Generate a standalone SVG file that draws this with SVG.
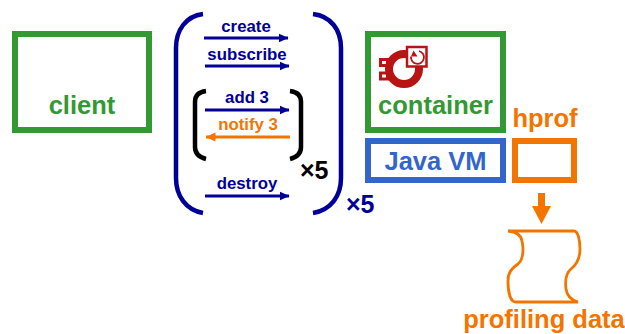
<svg xmlns="http://www.w3.org/2000/svg" width="625" height="334" viewBox="0 0 625 334">
<defs>
<marker id="ab" markerUnits="userSpaceOnUse" markerWidth="10" markerHeight="12" refX="9.500" refY="6" orient="auto"><path d="M0 1.500L10 6L0 10.500Z" fill="#000099"/></marker>
<marker id="ao" markerUnits="userSpaceOnUse" markerWidth="10" markerHeight="12" refX="9.500" refY="6" orient="auto"><path d="M0 1.500L10 6L0 10.500Z" fill="#f37500"/></marker>
</defs>
<style>
text{font-family:"Liberation Sans",Arial,sans-serif;font-weight:700}
.box{fill:#fff;stroke-width:6}
.g{stroke:#339933}.gt{fill:#339933;font-size:25.500px}
.b{stroke:#3366cc}.o{stroke:#f37500}
.lab{font-size:16.800px;fill:#000099;text-anchor:middle}
.arr{stroke:#000099;stroke-width:3;fill:none;marker-end:url(#ab)}
.brk{fill:none;stroke-width:4.500;stroke:#000099}
.x{font-size:25px}
</style>
<g id="client"><rect class="box g" x="15" y="34" width="134" height="96"/><text class="gt" x="82" y="114" text-anchor="middle">client</text></g>
<g id="container"><rect class="box g" x="368" y="34" width="135" height="96"/><text class="gt" x="435.500" y="114" text-anchor="middle">container</text>
<g id="icon"><rect x="380.500" y="59.500" width="7" height="6" fill="#fff" stroke="#b81414" stroke-width="3"/><rect x="380.500" y="73" width="7" height="6" fill="#fff" stroke="#b81414" stroke-width="3"/><circle cx="404" cy="69" r="15" fill="none" stroke="#b81414" stroke-width="8"/><rect x="407" y="47" width="19.500" height="19.500" fill="#fff" stroke="#b81414" stroke-width="2.500"/><path d="M419 51A6.500 6.500 0 1 1 411 56.500" fill="none" stroke="#b81414" stroke-width="1.800"/><path d="M413.500 50.500L417.500 56.500L411 56.500Z" fill="#b81414"/></g></g>
<g id="javavm"><rect class="box b" x="368" y="141" width="135" height="39"/><text x="435.500" y="170" text-anchor="middle" font-size="25.500" fill="#3366cc">Java VM</text></g>
<g id="hprof"><text x="545" y="127" text-anchor="middle" font-size="25.500" fill="#f37500">hprof</text><rect class="box o" x="515" y="141" width="59" height="39"/></g>
<g id="profiling-data"><path d="M508 231H574C578 231 580 240 580 249C580 259 576 265 571 269C566 273 565 281 566 289C567 296 571 300 578 302H515C510 301 508 291 508 281C508 272 512 268 518 264C523 260 524 250 522 241C521 235 517 232 508 231Z" fill="#fff" stroke="#f37500" stroke-width="2.800"/><text x="544" y="328" text-anchor="middle" font-size="25.500" fill="#f37500">profiling data</text></g>
<g id="connectors">
<path class="arr" d="M204 38H288"/><text class="lab" x="246" y="32">create</text>
<path class="arr" d="M205 66H289"/><text class="lab" x="247" y="60">subscribe</text>
<path class="arr" d="M205 110H289"/><text class="lab" x="247" y="103">add 3</text>
<path d="M290 137H206" fill="none" stroke="#f37500" stroke-width="3" marker-end="url(#ao)"/><text x="248" y="130" text-anchor="middle" font-size="16.800" fill="#f37500">notify 3</text>
<path class="arr" d="M205 196H289"/><text class="lab" x="247" y="189">destroy</text>
<path id="big-l" class="brk" d="M203 14C186 16 176 30 176 48V178C176 196 186 210 203 213"/>
<path id="big-r" class="brk" d="M313 14C331 16 341 30 341 48V178C341 196 331 210 313 213"/>
<path id="small-l" class="brk" style="stroke:#000" d="M206 91C198 92 195 96 195 102V147C195 153 198 157 206 159"/>
<path id="small-r" class="brk" style="stroke:#000" d="M290 91C298 92 301 96 301 102V147C301 153 298 157 290 159"/>
<path d="M541.500 193V210" stroke="#f37500" stroke-width="7" fill="none"/><path d="M532 206H551L541.500 224Z" fill="#f37500"/>
</g>
<text class="x" x="300" y="179" fill="#000">×5</text>
<text class="x" x="346" y="213" fill="#000099">×5</text>
</svg>
